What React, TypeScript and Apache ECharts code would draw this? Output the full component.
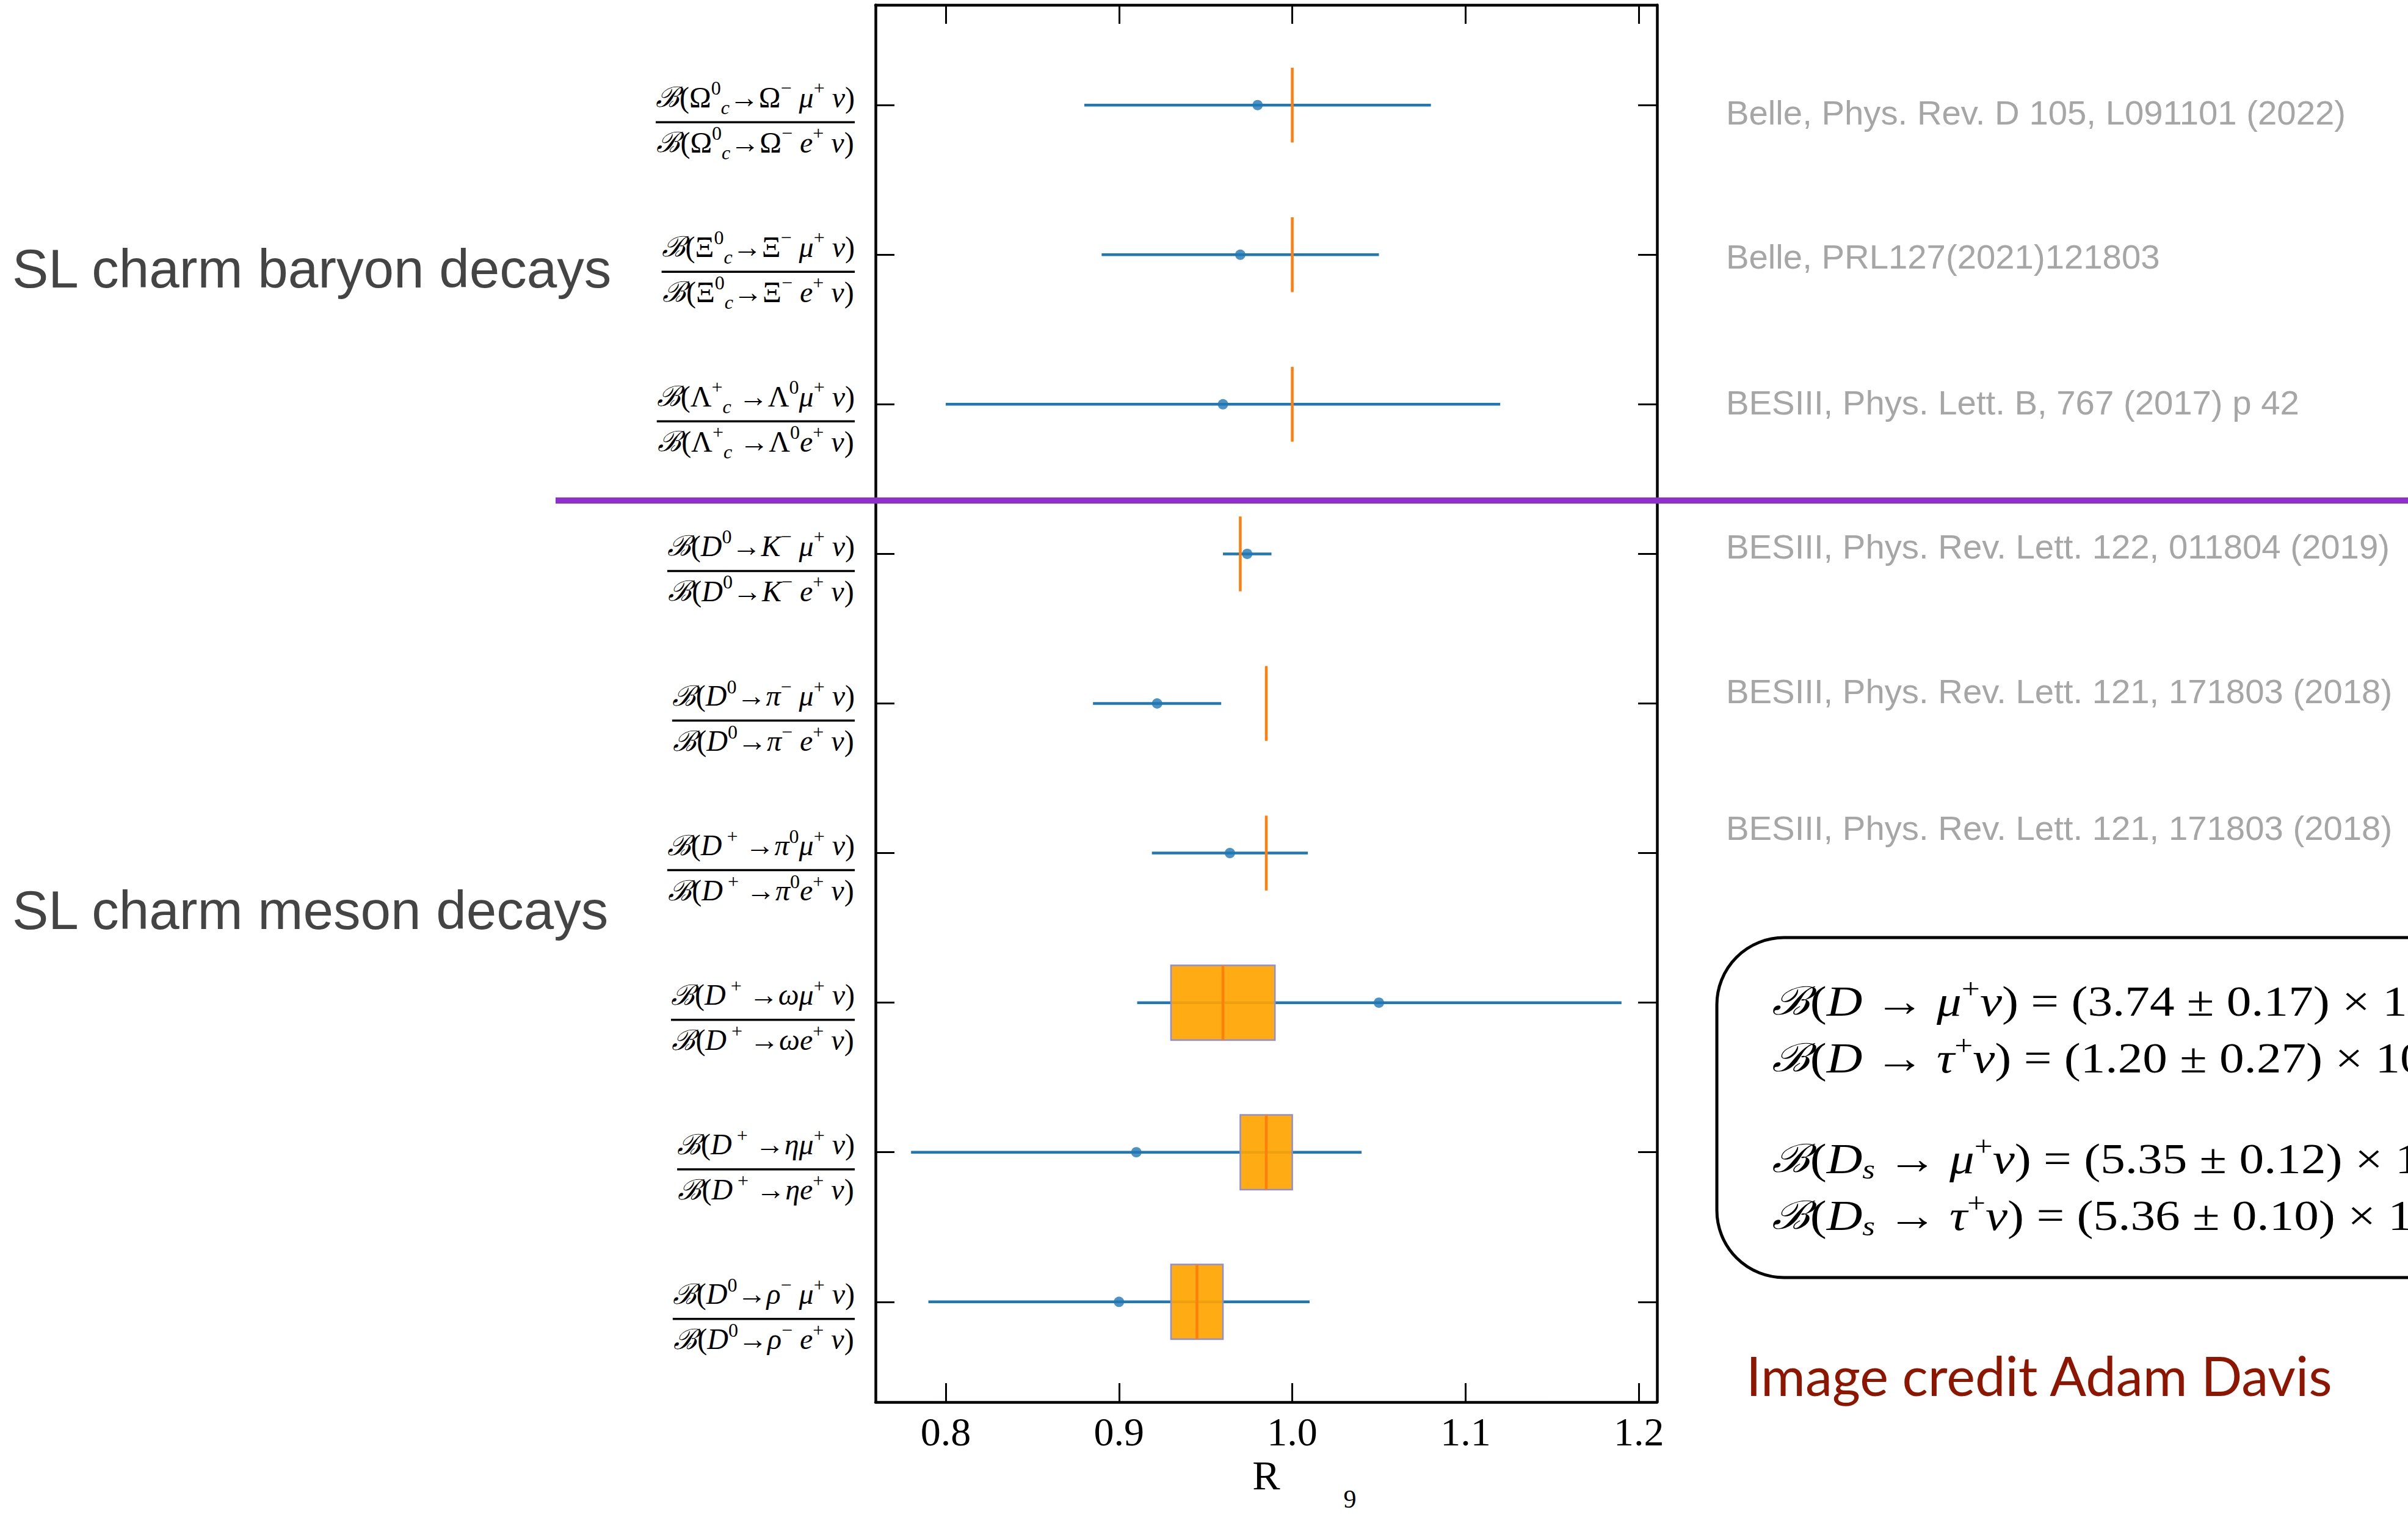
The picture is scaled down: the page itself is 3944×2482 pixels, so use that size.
import React, { useEffect, useRef } from "react";
import * as echarts from "echarts";

// ---------- data ----------
const rowIndex = [0, 1, 2, 3, 4, 5, 6, 7, 8];

// numerators of the ratio labels (denominators: mu -> e)
const ratioNumerators = [
  "{nh|}{B|ℬ}{r|(Ω}{sp|0}{sb|c}{r|→Ω}{sp|−}{i| μ}{sp|+}{i| ν}{r|)}",
  "{nh|}{B|ℬ}{r|(Ξ}{sp|0}{sb|c}{r|→Ξ}{sp|−}{i| μ}{sp|+}{i| ν}{r|)}",
  "{nh|}{B|ℬ}{r|(Λ}{sp|+}{sb|c}{r| →Λ}{sp|0}{i|μ}{sp|+}{i| ν}{r|)}",
  "{nh|}{B|ℬ}{r|(}{i|D}{sp|0}{r|→}{i|K}{sp|−}{i| μ}{sp|+}{i| ν}{r|)}",
  "{nh|}{B|ℬ}{r|(}{i|D}{sp|0}{r|→}{i|π}{sp|−}{i| μ}{sp|+}{i| ν}{r|)}",
  "{nh|}{B|ℬ}{r|(}{i|D}{sp| +}{r| →}{i|π}{sp|0}{i|μ}{sp|+}{i| ν}{r|)}",
  "{nh|}{B|ℬ}{r|(}{i|D}{sp| +}{r| →}{i|ωμ}{sp|+}{i| ν}{r|)}",
  "{nh|}{B|ℬ}{r|(}{i|D}{sp| +}{r| →}{i|ημ}{sp|+}{i| ν}{r|)}",
  "{nh|}{B|ℬ}{r|(}{i|D}{sp|0}{r|→}{i|ρ}{sp|−}{i| μ}{sp|+}{i| ν}{r|)}",
];

const measured = [0.98, 0.97, 0.96, 0.974, 0.922, 0.964, 1.05, 0.91, 0.9];
const errLow = [0.88, 0.89, 0.8, 0.96, 0.885, 0.919, 0.9105, 0.78, 0.79];
const errHigh = [1.08, 1.05, 1.12, 0.988, 0.959, 1.009, 1.19, 1.04, 1.01];
const smPrediction = [1.0, 1.0, 1.0, 0.97, 0.985, 0.985, 0.96, 0.985, 0.945];

const boxRows = [6, 7, 8];
const boxLow = [0.93, 0.97, 0.93];
const boxHigh = [0.99, 1.0, 0.96];

const xTicks = [0.8, 0.9, 1.0, 1.1, 1.2];
const xMin = 0.7595;
const xMax = 1.2105;
const yMin = -0.67;
const yMax = 8.67;

const references = [
  "Belle, Phys. Rev. D 105, L091101 (2022)",
  "Belle, PRL127(2021)121803",
  "BESIII, Phys. Lett. B, 767 (2017) p 42",
  "BESIII, Phys. Rev. Lett. 122, 011804 (2019)",
  "BESIII, Phys. Rev. Lett. 121, 171803 (2018)",
  "BESIII, Phys. Rev. Lett. 121, 171803 (2018)",
];
const groupTitles = ["SL charm baryon decays", "SL charm meson decays"];
const leptonicLines = [
  "{B|ℬ}{r|(}{i|D}{r| → }{i|μ}{sp|+}{i|ν}{r|) = (3.74 ± 0.17) × 10}{sp|−4}",
  "{B|ℬ}{r|(}{i|D}{r| → }{i|τ}{sp|+}{i|ν}{r|) = (1.20 ± 0.27) × 10}{sp|−3}",
  "{B|ℬ}{r|(}{i|D}{sb|s}{r| → }{i|μ}{sp|+}{i|ν}{r|) = (5.35 ± 0.12) × 10}{sp|−3}",
  "{B|ℬ}{r|(}{i|D}{sb|s}{r| → }{i|τ}{sp|+}{i|ν}{r|) = (5.36 ± 0.10) × 10}{sp|−2}",
];
const creditText = "Image credit Adam Davis";
const xAxisName = "R";
const pageNumber = "9";

// ---------- layout (pixels) ----------
const refX = 2827;
const refY = [184, 420, 659, 895, 1132, 1356];
const titleY = [440, 1491];
const boxLineY = [1640, 1733, 1898, 1991];

const SERIF = '"Liberation Serif", "Times New Roman", serif';
const SANS = '"Liberation Sans", Arial, Helvetica, sans-serif';

function fractionLabel(i: number) {
  const num = ratioNumerators[i];
  const den = num.replace("{nh|}", "").replace(/μ/g, "e");
  return num + "\n{hr|}\n" + den;
}

export default function App() {
  const ref = useRef<HTMLDivElement>(null);

  useEffect(() => {
    if (!ref.current) return;
    const chart = echarts.init(ref.current, null, { renderer: "svg" });

    const labelRich: any = {
      nh: { lineHeight: 76, width: 0, align: "center" },
      B: { fontFamily: '"DejaVu Serif", serif', fontStyle: "italic", fontSize: 46, color: "#000", align: "center" },
      r: { fontFamily: SERIF, fontSize: 48, color: "#000", align: "center" },
      i: { fontFamily: SERIF, fontStyle: "italic", fontSize: 48, color: "#000", align: "center" },
      sp: { fontFamily: SERIF, fontSize: 32, color: "#000", align: "center", padding: [0, 0, 30, 0] },
      sb: { fontFamily: SERIF, fontStyle: "italic", fontSize: 32, color: "#000", align: "center", padding: [34, 0, 0, 0] },
      hr: { width: "100%", height: 0, borderColor: "#000", borderWidth: 3.5, lineHeight: 6, align: "left" },
    };

    const axisLineStyle = { color: "#000", width: 4.5 };
    const tickStyle = { color: "#000", width: 3 };

    const boxRich: any = {
      B: { font: 'italic 64px "DejaVu Serif", serif', fill: "#000" },
      r: { font: '70px ' + SERIF, fill: "#000" },
      i: { font: 'italic 70px ' + SERIF, fill: "#000" },
      sp: { font: '46px ' + SERIF, fill: "#000", padding: [0, 0, 40, 0] },
      sb: { font: 'italic 46px ' + SERIF, fill: "#000", padding: [36, 0, 0, 0] },
    };

    const graphic: any[] = [];
    groupTitles.forEach((t, k) => {
      graphic.push({
        type: "text",
        x: 20,
        y: titleY[k],
        style: { text: t, font: '89px ' + SANS, fill: "#444444", verticalAlign: "middle", align: "left" },
      });
    });
    references.forEach((t, k) => {
      graphic.push({
        type: "text",
        x: refX,
        y: refY[k],
        style: { text: t, font: '56.3px ' + SANS, fill: "#a6a6a6", verticalAlign: "middle", align: "left" },
      });
    });
    graphic.push({
      type: "line",
      z: 100,
      shape: { x1: 910, y1: 820, x2: 3944, y2: 820 },
      style: { stroke: "#8f2fcf", lineWidth: 10 },
    });
    graphic.push({
      type: "rect",
      z: 10,
      shape: { x: 2812, y: 1536, width: 1400, height: 557, r: 110 },
      style: { fill: "none", stroke: "#000", lineWidth: 5 },
    });
    leptonicLines.forEach((t, k) => {
      graphic.push({
        type: "text",
        z: 11,
        x: 2902,
        y: boxLineY[k],
        scaleX: 1.16,
        style: { text: t, rich: boxRich, font: '70px ' + SERIF, fill: "#000", verticalAlign: "middle", align: "left" },
      });
    });
    graphic.push({
      type: "text",
      x: 2860,
      y: 2253,
      style: { text: creditText, font: '88.5px Lato, "Open Sans", sans-serif', fill: "#8e1500", verticalAlign: "middle", align: "left" },
    });
    graphic.push({
      type: "text",
      x: 2211,
      y: 2456,
      style: { text: pageNumber, font: '42px ' + SERIF, fill: "#000", verticalAlign: "middle", align: "center" },
    });

    const option: any = {
      animation: false,
      backgroundColor: "#ffffff",
      grid: { left: 1434, right: 3944 - 2714, top: 8, bottom: 2482 - 2297, containLabel: false },
      xAxis: [
        {
          type: "value",
          min: xMin,
          max: xMax,
          position: "bottom",
          name: xAxisName,
          nameLocation: "middle",
          nameGap: 86,
          nameTextStyle: { fontFamily: SERIF, fontSize: 68, color: "#000" },
          axisLine: { show: true, onZero: false, lineStyle: axisLineStyle },
          axisTick: { show: true, inside: true, length: 31, customValues: xTicks, lineStyle: tickStyle },
          axisLabel: {
            show: true,
            customValues: xTicks,
            margin: 15,
            formatter: (v: number) => v.toFixed(1),
            fontFamily: SERIF,
            fontSize: 66,
            color: "#000",
          },
          splitLine: { show: false },
        },
        {
          type: "value",
          min: xMin,
          max: xMax,
          position: "top",
          axisLine: { show: true, onZero: false, lineStyle: axisLineStyle },
          axisTick: { show: true, inside: true, length: 31, customValues: xTicks, lineStyle: tickStyle },
          axisLabel: { show: false },
          splitLine: { show: false },
        },
      ],
      yAxis: [
        {
          type: "value",
          min: yMin,
          max: yMax,
          inverse: true,
          position: "left",
          axisLine: { show: true, onZero: false, lineStyle: axisLineStyle },
          axisTick: { show: true, inside: true, length: 31, customValues: rowIndex, lineStyle: tickStyle },
          axisLabel: {
            show: true,
            customValues: rowIndex,
            margin: 34,
            formatter: (v: number) => fractionLabel(Math.round(v)),
            rich: labelRich,
            lineHeight: 60,
            padding: [40, 0, 0, 0],
            color: "#000",
            fontFamily: SERIF,
            fontSize: 48,
          },
          splitLine: { show: false },
        },
        {
          type: "value",
          min: yMin,
          max: yMax,
          inverse: true,
          position: "right",
          axisLine: { show: true, onZero: false, lineStyle: axisLineStyle },
          axisTick: { show: true, inside: true, length: 31, customValues: rowIndex, lineStyle: tickStyle },
          axisLabel: { show: false },
          splitLine: { show: false },
        },
      ],
      graphic,
      series: [
        {
          type: "custom",
          name: "error bars",
          z: 2,
          xAxisIndex: 0,
          yAxisIndex: 0,
          encode: { x: [0, 1], y: 2 },
          data: rowIndex.map((i) => [errLow[i], errHigh[i], i]),
          renderItem: (params: any, api: any) => {
            const y = api.value(2);
            const a = api.coord([api.value(0), y]);
            const b = api.coord([api.value(1), y]);
            return {
              type: "line",
              shape: { x1: a[0], y1: a[1], x2: b[0], y2: b[1] },
              style: { stroke: "#1f77b4", lineWidth: 4.5 },
            };
          },
        },
        {
          type: "custom",
          name: "prediction band",
          z: 3,
          xAxisIndex: 0,
          yAxisIndex: 0,
          encode: { x: [0, 1], y: 2 },
          data: boxRows.map((r, k) => [boxLow[k], boxHigh[k], r]),
          renderItem: (params: any, api: any) => {
            const y = api.value(2);
            const a = api.coord([api.value(0), y - 0.25]);
            const b = api.coord([api.value(1), y + 0.25]);
            return {
              type: "rect",
              shape: { x: a[0], y: a[1], width: b[0] - a[0], height: b[1] - a[1] },
              style: { fill: "rgba(255,165,0,0.92)", stroke: "#8c8fd8", lineWidth: 2.5 },
            };
          },
        },
        {
          type: "custom",
          name: "prediction",
          z: 4,
          xAxisIndex: 0,
          yAxisIndex: 0,
          encode: { x: 0, y: 1 },
          data: rowIndex.map((i) => [smPrediction[i], i]),
          renderItem: (params: any, api: any) => {
            const x = api.value(0);
            const y = api.value(1);
            const a = api.coord([x, y - 0.25]);
            const b = api.coord([x, y + 0.25]);
            return {
              type: "line",
              shape: { x1: a[0], y1: a[1], x2: b[0], y2: b[1] },
              style: { stroke: "#ff7f0e", lineWidth: 4.5 },
            };
          },
        },
        {
          type: "scatter",
          name: "measured",
          z: 5,
          xAxisIndex: 0,
          yAxisIndex: 0,
          symbol: "circle",
          symbolSize: 17,
          itemStyle: { color: "#1f77b4" },
          data: rowIndex.map((i) => [measured[i], i]),
        },
      ],
    };

    chart.setOption(option);
    return () => chart.dispose();
  }, []);

  return (
    <div
      ref={ref}
      style={{ position: "fixed", left: 0, top: 0, width: 3944, height: 2482, background: "#fff" }}
    />
  );
}
